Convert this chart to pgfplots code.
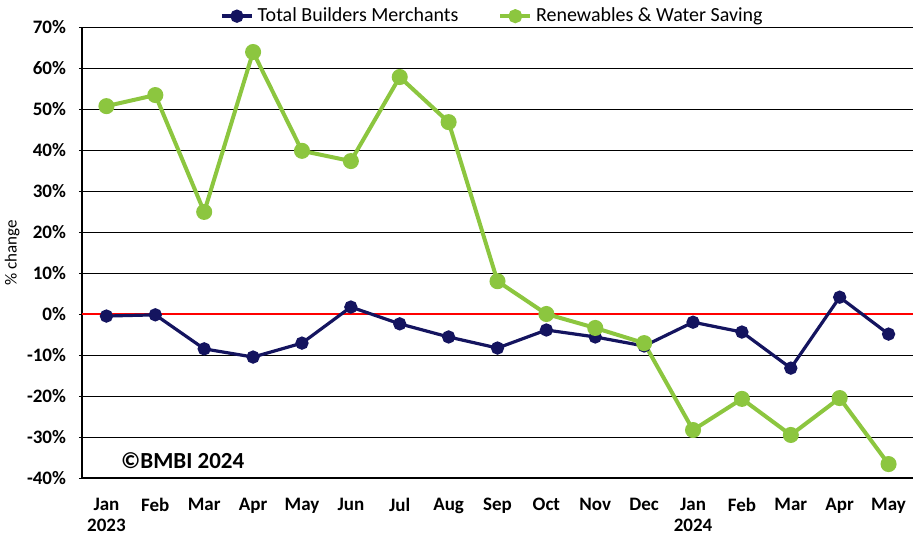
\documentclass[border=0pt]{standalone}
\usepackage{pgfplots}
\pgfplotsset{compat=1.18}
\usepackage{fontspec}
\setmainfont{Carlito}
\definecolor{navy}{RGB}{20,20,95}
\definecolor{lime}{RGB}{140,198,63}

\begin{document}
\begin{tikzpicture}
\path[use as bounding box] (0,0) rectangle (457pt,269pt);
\begin{axis}[
  at={(41pt,30pt)}, anchor=south west,
  scale only axis,
  width=415.5pt, height=225.5pt,
  xmin=-0.5, xmax=16.5,
  ymin=-40, ymax=70,
  ytick={-40,-30,...,70},
  yticklabel={\pgfmathprintnumber{\tick}\%},
  /pgf/number format/assume math mode=true,
  xtick={0,...,16},
  xticklabels={{Jan\\2023},Feb,Mar,Apr,May,Jun,Jul,Aug,Sep,Oct,Nov,Dec,{Jan\\2024},Feb,Mar,Apr,May},
  xticklabel style={align=center, font=\fontsize{9.5}{10.5}\selectfont\bfseries, anchor=north, yshift=-5pt},
  yticklabel style={font=\fontsize{9.5}{11}\selectfont\bfseries, xshift=-3pt},
  major x tick style={draw=none},
  ytick style={black, thin},
  tick align=outside,
  major tick length=3pt,
  ymajorgrids,
  grid style={black, line width=0.5pt},
  axis x line=bottom,
  axis y line=left,
  axis line style={black, line width=0.8pt, -},
  ylabel={\% change},
  ylabel style={at={(rel axis cs:-0.084,0.5)}, anchor=center, font=\fontsize{8.5}{9}\selectfont},
  legend columns=2,
  legend style={at={(0.495,1.024)}, anchor=center, draw=none, fill=none,
    font=\fontsize{10}{10}\selectfont, inner sep=0pt,
    /tikz/every even column/.append style={column sep=18pt}},
  legend image code/.code={
    \draw[#1, line width=1.8pt] (0pt,0pt) -- (15pt,0pt);
    \draw[#1, mark size=2.5pt, mark options={solid}] plot coordinates {(7.5pt,0pt)};
  },
  legend cell align=left,
  clip=false,
]
\addplot[red, line width=1.1pt, forget plot] coordinates {(-0.5,0) (16.5,0)};
\addplot[navy, line width=1.6pt, mark=*, mark size=2.5pt, mark options={fill=navy}] coordinates {
  (0,-0.5) (1,-0.2) (2,-8.5) (3,-10.5) (4,-7.1) (5,1.7) (6,-2.4) (7,-5.6)
  (8,-8.3) (9,-3.9) (10,-5.6) (11,-7.8) (12,-2.0) (13,-4.4) (14,-13.2) (15,4.1) (16,-4.9)
};
\addlegendentry{Total Builders Merchants}
\addplot[lime, line width=2pt, mark=*, mark size=3pt, mark options={fill=lime}] coordinates {
  (0,50.7) (1,53.4) (2,24.9) (3,63.9) (4,39.8) (5,37.3) (6,57.8) (7,46.8)
  (8,8.0) (9,0.0) (10,-3.4) (11,-7.1) (12,-28.3) (13,-20.7) (14,-29.5) (15,-20.5) (16,-36.6)
};
\addlegendentry{Renewables \& Water Saving}
\node[font=\fontsize{11.5}{12}\selectfont\bfseries] at (axis cs:1.56,-35.8) {©BMBI 2024};
\end{axis}
\end{tikzpicture}
\end{document}
